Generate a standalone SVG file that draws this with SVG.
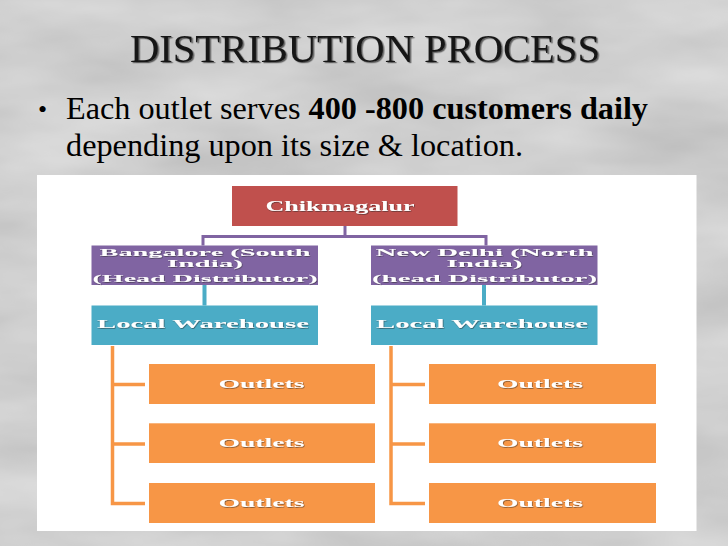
<svg xmlns="http://www.w3.org/2000/svg" width="728" height="546" viewBox="0 0 728 546">
<defs>
<filter id="tex" filterUnits="userSpaceOnUse" x="0" y="0" width="728" height="546">
<feTurbulence type="fractalNoise" baseFrequency="0.005 0.015" numOctaves="4" seed="7"/>
<feColorMatrix type="matrix" values="0.3 0 0 0 0.47  0.3 0 0 0 0.47  0.3 0 0 0 0.47  0 0 0 0 1"/>
</filter>
<filter id="sh" x="-5%" y="-30%" width="110%" height="160%">
<feDropShadow dx="0.6" dy="0.7" stdDeviation="0.3" flood-color="#2a2a2a" flood-opacity="0.7"/>
</filter>
<filter id="tsh" x="-5%" y="-20%" width="110%" height="140%">
<feDropShadow dx="1.5" dy="1.2" stdDeviation="0.2" flood-color="#000" flood-opacity="0.55"/>
</filter>
<style>
.nt{font-family:"Liberation Serif","DejaVu Serif",serif;font-weight:bold;fill:#fff;filter:url(#sh);text-anchor:middle}
.body{font-family:"Liberation Serif","DejaVu Serif",serif;font-size:31px;fill:#000}
.red{fill:#c0504d}
.pur{fill:#8064a2}
.cya{fill:#4bacc6}
.ora{fill:#f79646}
.cp{stroke:#8064a2;stroke-width:3;fill:none}
.cc{stroke:#4bacc6;stroke-width:4;fill:none}
.co{stroke:#f79646;stroke-width:3.5;fill:none}
</style>
</defs>
<rect x="0" y="0" width="728" height="546" fill="#a8a8a8"/>
<rect x="0" y="0" width="728" height="546" filter="url(#tex)"/>

<text x="130" y="62" font-family="'Liberation Serif','DejaVu Serif',serif" font-size="40" fill="#151515" textLength="470" lengthAdjust="spacingAndGlyphs" filter="url(#tsh)">DISTRIBUTION PROCESS</text>

<text x="38" y="118" font-family="'Liberation Serif','DejaVu Serif',serif" font-size="26" fill="#000">•</text>
<text class="body" x="66" y="118.5" textLength="582" lengthAdjust="spacingAndGlyphs">Each outlet serves <tspan font-weight="bold">400 -800 customers daily</tspan></text>
<text class="body" x="66" y="155.5" textLength="457" lengthAdjust="spacingAndGlyphs">depending upon its size &amp; location.</text>

<rect x="37" y="175" width="659.5" height="356" fill="#fff"/>

<g id="connectors">
<path class="cp" d="M345,226 V236.5 M203,236.5 H486 M203,235 V245.5 M486,235 V245.5"/>
<path class="cc" d="M204.5,285 V305.5 M484,285 V305.5"/>
<path class="co" d="M112.5,346 V503.5 H145 M112.5,384.5 H145 M112.5,444 H145"/>
<path class="co" d="M391,346 V503.5 H425 M391,384.5 H425 M391,444 H425"/>
</g>

<g id="chikmagalur">
<rect class="red" x="232" y="186" width="225.5" height="40"/>
<text class="nt" x="340" y="211" font-size="14" textLength="149" lengthAdjust="spacingAndGlyphs">Chikmagalur</text>
</g>

<g id="bangalore">
<rect class="pur" x="91.5" y="245.5" width="226.5" height="39.5"/>
<text class="nt" x="205" y="255.5" font-size="11" textLength="211" lengthAdjust="spacingAndGlyphs">Bangalore (South</text>
<text class="nt" x="205" y="267" font-size="11" textLength="76" lengthAdjust="spacingAndGlyphs">India)</text>
<text class="nt" x="205" y="282" font-size="11" textLength="225" lengthAdjust="spacingAndGlyphs">(Head Distributor)</text>
</g>

<g id="newdelhi">
<rect class="pur" x="371" y="245.5" width="226.5" height="39.5"/>
<text class="nt" x="484.5" y="255.5" font-size="11" textLength="218" lengthAdjust="spacingAndGlyphs">New Delhi (North</text>
<text class="nt" x="484.5" y="267" font-size="11" textLength="76" lengthAdjust="spacingAndGlyphs">India)</text>
<text class="nt" x="484.5" y="282" font-size="11" textLength="225" lengthAdjust="spacingAndGlyphs">(head Distributor)</text>
</g>

<g id="warehouse-left">
<rect class="cya" x="91.5" y="305.5" width="226.5" height="39.5"/>
<text class="nt" x="203" y="328" font-size="12" textLength="212" lengthAdjust="spacingAndGlyphs">Local Warehouse</text>
</g>
<g id="warehouse-right">
<rect class="cya" x="371" y="305.5" width="226.5" height="39.5"/>
<text class="nt" x="482" y="328" font-size="12" textLength="212" lengthAdjust="spacingAndGlyphs">Local Warehouse</text>
</g>

<g id="outlet-l1">
<rect class="ora" x="149" y="364" width="226" height="40"/>
<text class="nt" x="261.5" y="387.5" font-size="12" textLength="86" lengthAdjust="spacingAndGlyphs">Outlets</text>
</g>
<g id="outlet-l2">
<rect class="ora" x="149" y="423.3" width="226" height="39.7"/>
<text class="nt" x="261.5" y="447.3" font-size="12" textLength="86" lengthAdjust="spacingAndGlyphs">Outlets</text>
</g>
<g id="outlet-l3">
<rect class="ora" x="149" y="483" width="226" height="40"/>
<text class="nt" x="261.5" y="507" font-size="12" textLength="86" lengthAdjust="spacingAndGlyphs">Outlets</text>
</g>
<g id="outlet-r1">
<rect class="ora" x="429" y="364" width="227" height="40"/>
<text class="nt" x="540" y="387.5" font-size="12" textLength="86" lengthAdjust="spacingAndGlyphs">Outlets</text>
</g>
<g id="outlet-r2">
<rect class="ora" x="429" y="423.3" width="227" height="39.7"/>
<text class="nt" x="540" y="447.3" font-size="12" textLength="86" lengthAdjust="spacingAndGlyphs">Outlets</text>
</g>
<g id="outlet-r3">
<rect class="ora" x="429" y="483" width="227" height="40"/>
<text class="nt" x="540" y="507" font-size="12" textLength="86" lengthAdjust="spacingAndGlyphs">Outlets</text>
</g>
</svg>
